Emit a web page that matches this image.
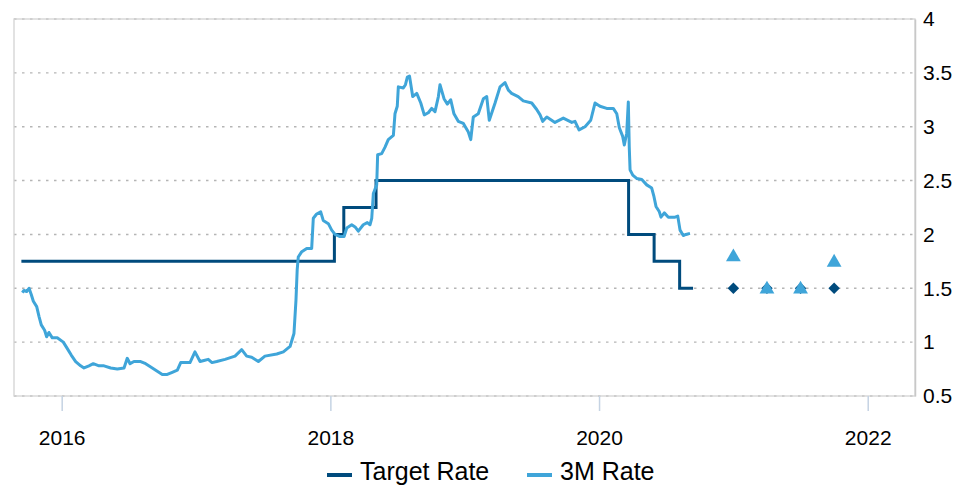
<!DOCTYPE html>
<html>
<head>
<meta charset="utf-8">
<script src="https://cdn.jsdelivr.net/npm/d3@7"></script>
<style>
  body { margin: 0; background: #fff; }
  text { font-family: "Liberation Sans", Arial, sans-serif; fill: #000; }
</style>
</head>
<body>
<script>
// ! Data (decimal years)
// prettier-ignore
const rateYears = [2015.707,2015.719,2015.739,2015.757,2015.774,2015.789,2015.814,2015.831,2015.848,2015.873,
  2015.888,2015.905,2015.930,2015.967,2016.012,2016.042,2016.071,2016.104,2016.141,2016.166,
  2016.203,2016.235,2016.278,2016.315,2016.365,2016.414,2016.464,2016.488,2016.509,2016.538,
  2016.588,2016.625,2016.663,2016.700,2016.749,2016.786,2016.823,2016.861,2016.886,2016.910,
  2016.955,2016.992,2017.030,2017.059,2017.091,2017.119,2017.154,2017.216,2017.290,2017.340,
  2017.377,2017.414,2017.464,2017.513,2017.601,2017.650,2017.700,2017.729,2017.744,2017.753,
  2017.761,2017.787,2017.824,2017.861,2017.873,2017.898,2017.928,2017.947,2017.985,2018.010,
  2018.035,2018.072,2018.102,2018.122,2018.159,2018.184,2018.208,2018.245,2018.275,2018.295,
  2018.308,2018.320,2018.345,2018.352,2018.382,2018.407,2018.431,2018.469,2018.481,2018.498,
  2018.506,2018.543,2018.559,2018.573,2018.589,2018.613,2018.643,2018.673,2018.699,2018.729,
  2018.754,2018.779,2018.804,2018.816,2018.846,2018.871,2018.896,2018.920,2018.952,2018.990,
  2019.027,2019.045,2019.064,2019.101,2019.139,2019.164,2019.183,2019.226,2019.263,2019.300,
  2019.325,2019.349,2019.398,2019.436,2019.499,2019.536,2019.561,2019.581,2019.611,2019.672,
  2019.734,2019.797,2019.821,2019.851,2019.896,2019.938,2019.970,2020.007,2020.057,2020.106,
  2020.132,2020.151,2020.176,2020.188,2020.206,2020.218,2020.225,2020.231,2020.251,2020.280,
  2020.318,2020.355,2020.392,2020.409,2020.424,2020.449,2020.461,2020.486,2020.516,2020.566,
  2020.586,2020.603,2020.627,2020.647,2020.677];
// prettier-ignore
const rateValues = [1.46,1.48,1.47,1.50,1.44,1.38,1.33,1.24,1.16,1.11,
  1.05,1.09,1.04,1.04,1.00,0.94,0.88,0.82,0.78,0.76,
  0.78,0.80,0.78,0.78,0.76,0.75,0.76,0.85,0.80,0.82,
  0.82,0.80,0.77,0.74,0.70,0.70,0.72,0.74,0.81,0.81,
  0.81,0.91,0.82,0.83,0.84,0.81,0.82,0.84,0.87,0.93,
  0.87,0.86,0.82,0.87,0.89,0.91,0.96,1.08,1.39,1.67,
  1.79,1.84,1.87,1.87,2.15,2.19,2.21,2.13,2.10,2.04,
  2.00,1.98,1.98,2.06,2.09,2.07,2.03,2.09,2.11,2.09,
  2.15,2.38,2.46,2.74,2.75,2.81,2.88,2.92,3.12,3.19,
  3.37,3.36,3.39,3.46,3.47,3.28,3.31,3.22,3.11,3.13,
  3.17,3.14,3.28,3.39,3.26,3.21,3.25,3.12,3.05,3.03,
  2.95,2.88,3.09,3.12,3.26,3.28,3.06,3.22,3.37,3.41,
  3.34,3.31,3.28,3.24,3.22,3.16,3.11,3.05,3.09,3.04,
  3.08,3.04,3.05,2.97,3.00,3.06,3.22,3.19,3.17,3.17,
  3.12,2.99,2.91,2.83,2.94,3.23,2.81,2.60,2.55,2.52,
  2.51,2.46,2.43,2.35,2.26,2.21,2.16,2.20,2.16,2.16,
  2.17,2.04,1.99,2.00,2.01];

const targetYears = [2015.70, 2018.03, 2018.10, 2018.34, 2020.22, 2020.41, 2020.60, 2020.70];
const targetValues = [1.75, 2.0, 2.25, 2.5, 2.0, 1.75, 1.5, 1.5];

const forecastYears = [2021.0, 2021.25, 2021.5, 2021.75];
const targetForecast = [1.5, 1.5, 1.5, 1.5];
const rateForecast = [1.8, 1.5, 1.5, 1.75];

const xTicks = [2016, 2018, 2020, 2022];
const yTicks = [0.5, 1, 1.5, 2, 2.5, 3, 3.5, 4];
const seriesNames = ["Target Rate", "3M Rate"];

// ! Sizes and colours
const width = 968;
const height = 486;
const margin = { top: 19, right: 53, bottom: 90, left: 14 };
const darkBlue = "#004b7d";
const lightBlue = "#3fa5d9";

const svg = d3
  .select("body")
  .append("svg")
  .attr("width", width)
  .attr("height", height);

const xScale = d3
  .scaleLinear()
  .domain([2015.645, 2022.352])
  .range([margin.left, width - margin.right]);

const yScale = d3
  .scaleLinear()
  .domain([0.5, 4])
  .range([height - margin.bottom, margin.top]);

// ! Frame and dotted gridlines
svg
  .append("g")
  .selectAll("line")
  .data(yTicks)
  .enter()
  .append("line")
  .attr("x1", xScale.range()[0])
  .attr("x2", xScale.range()[1])
  .attr("y1", (d) => yScale(d))
  .attr("y2", (d) => yScale(d))
  .attr("stroke", "#b5b5b5")
  .attr("stroke-width", 1.4)
  .attr("stroke-dasharray", "2.5,5.5");

svg
  .append("rect")
  .attr("x", xScale.range()[0])
  .attr("y", yScale.range()[1])
  .attr("width", xScale.range()[1] - xScale.range()[0])
  .attr("height", yScale.range()[0] - yScale.range()[1])
  .attr("fill", "none")
  .attr("stroke", "#d3d3d3")
  .attr("stroke-width", 1.3);

// ! Axes
const xAxisG = svg
  .append("g")
  .attr("transform", `translate(0, ${yScale.range()[0]})`)
  .call(
    d3
      .axisBottom(xScale)
      .tickValues(xTicks)
      .tickFormat(d3.format("d"))
      .tickSize(15)
      .tickPadding(19)
  );
xAxisG.select(".domain").remove();
xAxisG.selectAll(".tick line").attr("stroke", "#c5d3e3").attr("stroke-width", 1.5);
xAxisG.selectAll(".tick text").style("font-size", "21px").attr("fill", "#000");

const yAxisG = svg
  .append("g")
  .attr("transform", `translate(${xScale.range()[1]}, 0)`)
  .call(
    d3
      .axisRight(yScale)
      .tickValues(yTicks)
      .tickFormat(d3.format(""))
      .tickSize(0)
      .tickPadding(8)
  );
yAxisG.select(".domain").attr("stroke", "#c8c8c8").attr("stroke-width", 1.5);
yAxisG.selectAll(".tick text").style("font-size", "21px").attr("fill", "#000");

// ! Lines
const targetLine = d3
  .line()
  .x((d) => xScale(d[0]))
  .y((d) => yScale(d[1]))
  .curve(d3.curveStepAfter);

svg
  .append("path")
  .datum(d3.zip(targetYears, targetValues))
  .attr("d", targetLine)
  .attr("fill", "none")
  .attr("stroke", darkBlue)
  .attr("stroke-width", 3);

const rateLine = d3
  .line()
  .x((d) => xScale(d[0]))
  .y((d) => yScale(d[1]));

svg
  .append("path")
  .datum(d3.zip(rateYears, rateValues))
  .attr("d", rateLine)
  .attr("fill", "none")
  .attr("stroke", lightBlue)
  .attr("stroke-width", 3)
  .attr("stroke-linejoin", "round");

// ! Forecast markers
svg
  .append("g")
  .selectAll("path")
  .data(d3.zip(forecastYears, targetForecast))
  .enter()
  .append("path")
  .attr("d", d3.symbol(d3.symbolSquare, 66))
  .attr("transform", (d) => `translate(${xScale(d[0])}, ${yScale(d[1])}) rotate(45)`)
  .attr("fill", darkBlue);

svg
  .append("g")
  .selectAll("path")
  .data(d3.zip(forecastYears, rateForecast))
  .enter()
  .append("path")
  .attr("d", d3.symbol(d3.symbolTriangle, 95))
  .attr("transform", (d) => `translate(${xScale(d[0])}, ${yScale(d[1]) + 1})`)
  .attr("fill", lightBlue);

// ! Legend
const legend = svg
  .append("g")
  .selectAll("g")
  .data(seriesNames)
  .enter()
  .append("g")
  .attr("transform", (d, i) => `translate(${327 + i * 200}, 475)`);

legend
  .append("line")
  .attr("x1", 0)
  .attr("x2", 25)
  .attr("stroke", (d, i) => (i === 0 ? darkBlue : lightBlue))
  .attr("stroke-width", 4);

legend
  .append("text")
  .attr("x", 33)
  .attr("y", 5)
  .style("font-size", "25px")
  .text((d) => d);
</script>
</body>
</html>
